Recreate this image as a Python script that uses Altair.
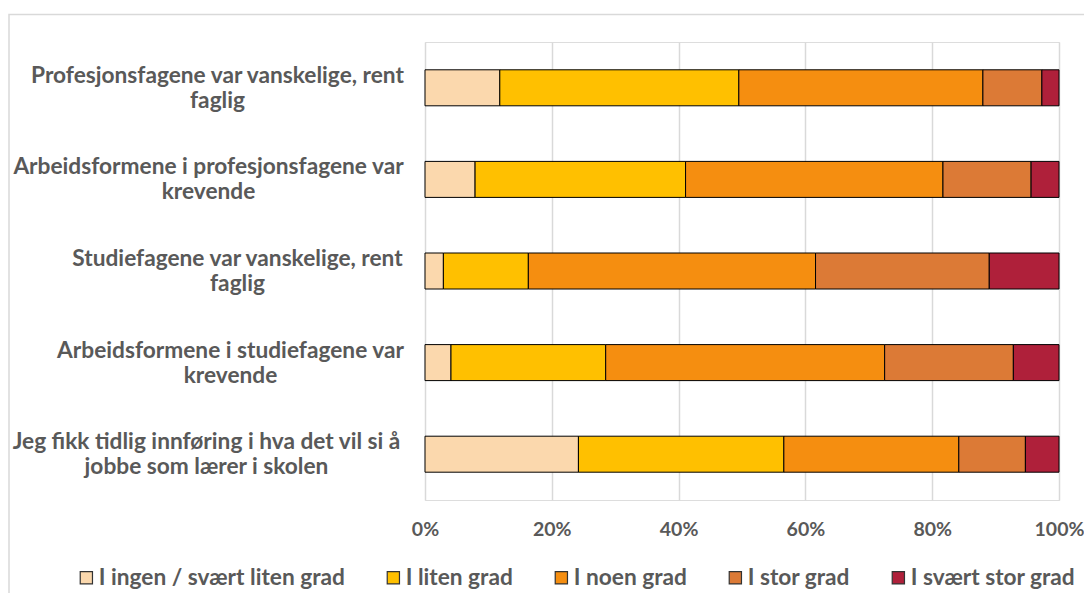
import altair as alt
import pandas as pd

categories = [
    "Profesjonsfagene var vanskelige, rent|faglig",
    "Arbeidsformene i profesjonsfagene var|krevende",
    "Studiefagene var vanskelige, rent|faglig",
    "Arbeidsformene i studiefagene var|krevende",
    "Jeg fikk tidlig innføring i hva det vil si å|jobbe som lærer i skolen",
]
levels = ["I ingen / svært liten grad", "I liten grad", "I noen grad", "I stor grad", "I svært stor grad"]
colors = ["#FBD8AD", "#FFC000", "#F58E10", "#DC7A36", "#AF203A"]

ingen = [11.8, 7.9, 2.9, 4.1, 24.2]
liten = [37.7, 33.2, 13.4, 24.4, 32.4]
noen = [38.5, 40.6, 45.3, 44.0, 27.6]
stor = [9.3, 13.9, 27.4, 20.3, 10.5]
svaert = [2.7, 4.4, 11.0, 7.2, 5.3]
series = [ingen, liten, noen, stor, svaert]
tick_values = [0, 0.2, 0.4, 0.6, 0.8, 1.0]

rows = []
for i, c in enumerate(categories):
    for j, (lvl, vals) in enumerate(zip(levels, series)):
        rows.append({"cat": c, "level": lvl, "order": j, "value": vals[i]})
df = pd.DataFrame(rows)

FONT = "Lato"
GRAY = "#595959"

# distance from plot edge to the centre of each (centred, two-line) label block
label_pad = [208, 217, 188, 195, 219]
pad_expr = " : ".join(
    f"datum.value == '{c}' ? {p}" for c, p in zip(categories, label_pad)
) + " : 200"

bars = alt.Chart(df).mark_bar(size=36, stroke="black", strokeWidth=1).encode(
    y=alt.Y("cat:N", sort=categories,
            axis=alt.Axis(title=None, labelExpr="split(datum.label, '|')",
                          labelFont=FONT, labelFontSize=22.7, labelFontWeight="bold",
                          labelColor=GRAY, labelAlign="center",
                          labelPadding=alt.ExprRef(expr=pad_expr), labelOffset=-12,
                          labelLimit=500, labelLineHeight=25, ticks=False, domain=False)),
    x=alt.X("value:Q", stack="normalize", scale=alt.Scale(domain=[0, 1]),
            axis=alt.Axis(title=None, format="%", values=tick_values, grid=True,
                          gridColor="#D9D9D9", gridWidth=1.5, ticks=False, domain=False,
                          labelFont=FONT, labelFontSize=19.5, labelFontWeight="bold",
                          labelColor=GRAY, labelPadding=20, labelFlush=False)),
    color=alt.Color("level:N", sort=levels, scale=alt.Scale(domain=levels, range=colors),
                    legend=alt.Legend(title=None, orient="none", legendX=-350, legendY=524,
                                      direction="horizontal", symbolType="square",
                                      symbolSize=150, symbolStrokeColor="#333333",
                                      symbolStrokeWidth=1.2, labelFont=FONT,
                                      labelFontSize=22.7, labelFontWeight="bold",
                                      labelColor=GRAY, columnPadding=37, labelOffset=1,
                                      labelLimit=400)),
    order=alt.Order("order:Q"),
)

frame = alt.Chart(pd.DataFrame({"f": [0]})).mark_rect(
    fill=None, stroke="#D9D9D9", strokeWidth=1.5
).encode(x=alt.value(-416), x2=alt.value(700), y=alt.value(-27.5), y2=alt.value(700))

chart = alt.layer(frame, bars).properties(
    width=634, height=458,
    autosize=alt.AutoSizeParams(type="none"),
    padding={"left": 417, "top": 34, "right": 25, "bottom": 93},
).configure_view(stroke=None).configure(background="white")

chart.save("out.html", embed_options={"renderer": "svg", "actions": False})
